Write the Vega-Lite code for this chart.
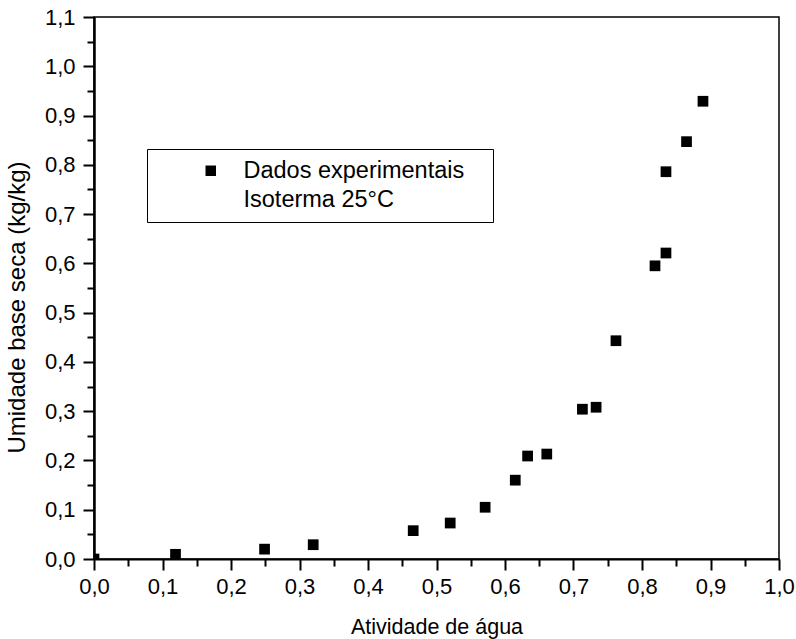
{
  "$schema": "https://vega.github.io/schema/vega-lite/v6.json",
  "width": 685,
  "height": 542,
  "autosize": "none",
  "padding": {"left": 94, "top": 17, "right": 17, "bottom": 80},
  "background": "white",
  "config": {
    "view": {"stroke": "black", "strokeWidth": 1.5},
    "font": "Liberation Sans"
  },
  "data": {
    "values": [
      {"aw": 0.0, "u": 0.0, "serie": "Dados experimentais"},
      {"aw": 0.119, "u": 0.0095, "serie": "Dados experimentais"},
      {"aw": 0.249, "u": 0.020, "serie": "Dados experimentais"},
      {"aw": 0.320, "u": 0.029, "serie": "Dados experimentais"},
      {"aw": 0.466, "u": 0.0575, "serie": "Dados experimentais"},
      {"aw": 0.520, "u": 0.073, "serie": "Dados experimentais"},
      {"aw": 0.571, "u": 0.105, "serie": "Dados experimentais"},
      {"aw": 0.615, "u": 0.160, "serie": "Dados experimentais"},
      {"aw": 0.633, "u": 0.209, "serie": "Dados experimentais"},
      {"aw": 0.661, "u": 0.213, "serie": "Dados experimentais"},
      {"aw": 0.713, "u": 0.304, "serie": "Dados experimentais"},
      {"aw": 0.733, "u": 0.308, "serie": "Dados experimentais"},
      {"aw": 0.762, "u": 0.443, "serie": "Dados experimentais"},
      {"aw": 0.819, "u": 0.595, "serie": "Dados experimentais"},
      {"aw": 0.835, "u": 0.621, "serie": "Dados experimentais"},
      {"aw": 0.835, "u": 0.786, "serie": "Dados experimentais"},
      {"aw": 0.865, "u": 0.847, "serie": "Dados experimentais"},
      {"aw": 0.889, "u": 0.929, "serie": "Dados experimentais"}
    ]
  },
  "layer": [
    {
      "mark": {"type": "point", "shape": "square", "filled": true, "size": 115, "opacity": 1, "clip": true},
      "encoding": {
        "x": {
          "field": "aw", "type": "quantitative",
          "scale": {"domain": [0, 1], "nice": false},
          "axis": {
            "orient": "bottom",
            "values": [0, 0.1, 0.2, 0.3, 0.4, 0.5, 0.6, 0.7, 0.8, 0.9, 1.0],
            "labelExpr": "replace(format(datum.value, '.1f'), '.', ',')",
            "grid": false, "tickSize": 11, "tickWidth": 2, "tickColor": "black",
            "domainColor": "black", "domainWidth": 2,
            "labelFontSize": 22, "labelColor": "black", "labelPadding": 6,
            "labelFlush": false, "labelOverlap": false,
            "title": "Atividade de água", "titleFontSize": 21.5, "titleFontWeight": "normal",
            "titleColor": "black", "titlePadding": 19
          }
        },
        "y": {
          "field": "u", "type": "quantitative",
          "scale": {"domain": [0, 1.1], "nice": false},
          "axis": {
            "orient": "left",
            "values": [0, 0.1, 0.2, 0.3, 0.4, 0.5, 0.6, 0.7, 0.8, 0.9, 1.0, 1.1],
            "labelExpr": "replace(format(datum.value, '.1f'), '.', ',')",
            "grid": false, "tickSize": 11, "tickWidth": 2, "tickColor": "black",
            "domainColor": "black", "domainWidth": 2.5,
            "labelFontSize": 22, "labelColor": "black", "labelPadding": 8,
            "labelFlush": false, "labelOverlap": false,
            "title": "Umidade base seca (kg/kg)", "titleFontSize": 24, "titleFontWeight": "normal",
            "titleColor": "black", "titleAngle": 270, "titleBaseline": "bottom",
            "titleX": -65, "titleY": 290, "titleAlign": "center"
          }
        },
        "color": {
          "field": "serie", "type": "nominal",
          "scale": {"domain": ["Dados experimentais", "Isoterma 25°C"], "range": ["black", "transparent"]},
          "legend": {
            "orient": "none", "legendX": 53, "legendY": 132,
            "title": null, "direction": "vertical",
            "strokeColor": "black", "fillColor": "white", "padding": 10,
            "symbolType": "square", "symbolSize": 110, "symbolStrokeWidth": 0,
            "symbolOffset": 42, "labelOffset": 21, "rowPadding": 4,
            "labelFontSize": 23.5, "labelColor": "black", "labelLimit": 400,
            "labelBaseline": "middle",
            "labelExpr": "datum.label == 'Dados experimentais' ? 'Dados experimentais\u00a0\u00a0\u2009\u200b' : datum.label"
          }
        }
      }
    },
    {
      "mark": {"type": "point", "opacity": 0},
      "encoding": {
        "x": {
          "field": "aw", "type": "quantitative",
          "axis": {
            "orient": "bottom",
            "values": [0.05, 0.15, 0.25, 0.35, 0.45, 0.55, 0.65, 0.75, 0.85, 0.95],
            "labels": false, "domain": false, "grid": false, "title": null,
            "tickSize": 7, "tickWidth": 2, "tickColor": "black"
          }
        },
        "y": {
          "field": "u", "type": "quantitative",
          "axis": {
            "orient": "left",
            "values": [0.05, 0.15, 0.25, 0.35, 0.45, 0.55, 0.65, 0.75, 0.85, 0.95, 1.05],
            "labels": false, "domain": false, "grid": false, "title": null,
            "tickSize": 7, "tickWidth": 2, "tickColor": "black"
          }
        }
      }
    }
  ],
  "resolve": {"axis": {"x": "independent", "y": "independent"}}
}
